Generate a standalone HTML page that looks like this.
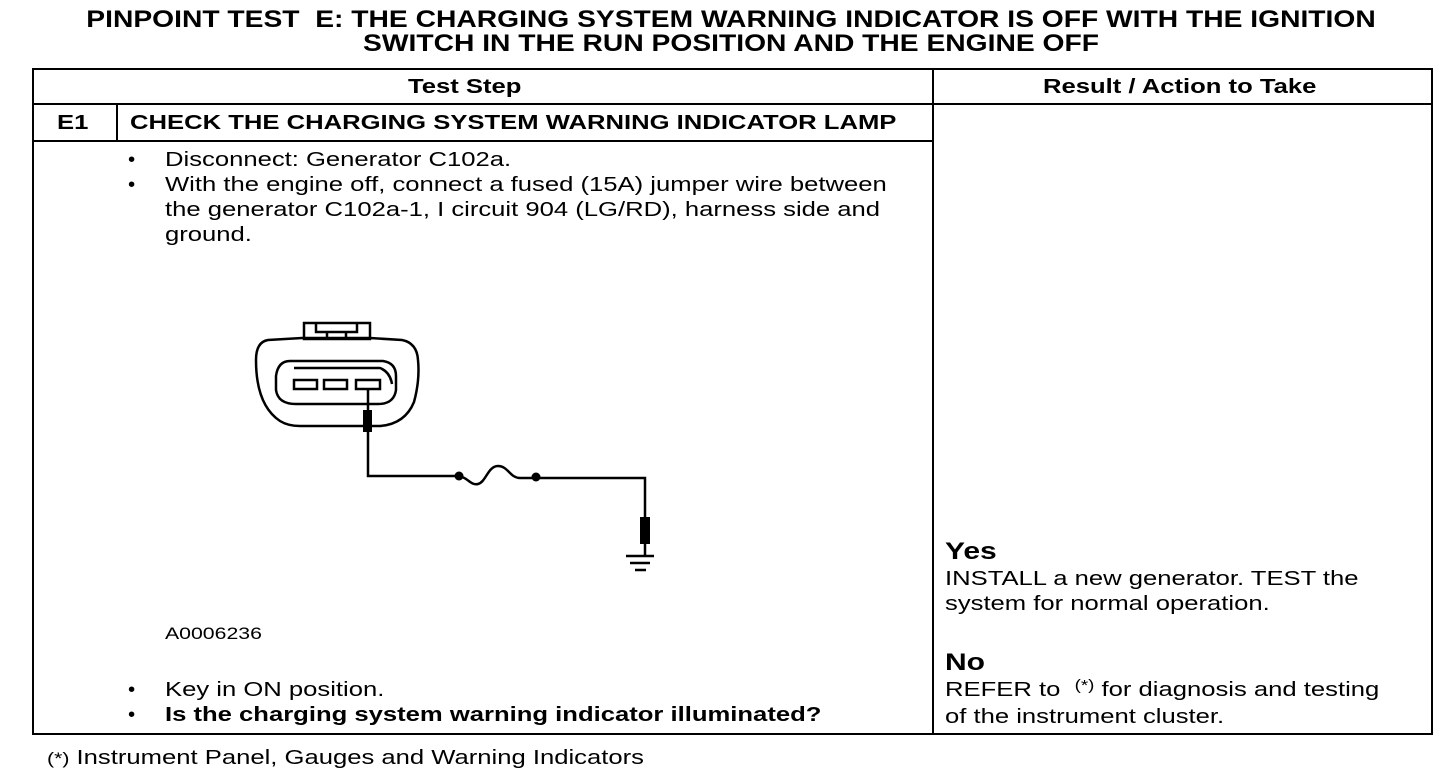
<!DOCTYPE html>
<html><head><style>
body{margin:0;width:1456px;height:782px;background:#fff;position:relative;overflow:hidden;font-family:"Liberation Sans",Arial,sans-serif;color:#000}
.a{position:absolute;white-space:nowrap;transform:scaleX(1.25);transform-origin:0 0}
.t{font-weight:bold;font-size:24px;line-height:24px;left:0;width:1462px;text-align:center;transform:scaleX(1.176);transform-origin:731px 0}
.b{font-size:20.5px;line-height:25px}
.h{font-weight:bold;font-size:20.5px}
.l{position:absolute;background:#000}
.n{transform:none}
</style></head><body>
<div class="a t" style="top:8px">PINPOINT TEST&nbsp; E: THE CHARGING SYSTEM WARNING INDICATOR IS OFF WITH THE IGNITION</div>
<div class="a t" style="top:32px">SWITCH IN THE RUN POSITION AND THE ENGINE OFF</div>
<div class="l" style="left:32px;top:68px;width:1401px;height:2px"></div>
<div class="l" style="left:32px;top:733px;width:1401px;height:2px"></div>
<div class="l" style="left:32px;top:68px;width:2px;height:667px"></div>
<div class="l" style="left:1431px;top:68px;width:2px;height:667px"></div>
<div class="l" style="left:932px;top:68px;width:2px;height:667px"></div>
<div class="l" style="left:32px;top:103px;width:1401px;height:2px"></div>
<div class="l" style="left:32px;top:140px;width:902px;height:2px"></div>
<div class="l" style="left:116px;top:103px;width:2px;height:38px"></div>
<div class="a h" style="left:408px;top:75px">Test Step</div>
<div class="a h" style="left:1043px;top:75px">Result / Action to Take</div>
<div class="a h" style="left:57px;top:111px">E1</div>
<div class="a h" style="left:130px;top:111px">CHECK THE CHARGING SYSTEM WARNING INDICATOR LAMP</div>
<div class="a b n" style="left:128px;top:147px">•</div>
<div class="a b n" style="left:128px;top:172px">•</div>
<div class="a b" style="left:165px;top:147px">Disconnect: Generator C102a.<br>With the engine off, connect a fused (15A) jumper wire between<br>the generator C102a-1, I circuit 904 (LG/RD), harness side and<br>ground.</div>
<div class="a" style="left:165px;top:624px;font-size:17px">A0006236</div>
<div class="a b n" style="left:128px;top:677px">•<br>•</div>
<div class="a b" style="left:165px;top:677px">Key in ON position.<br><b>Is the charging system warning indicator illuminated?</b></div>
<div class="a" style="left:945px;top:538px;font-weight:bold;font-size:24px">Yes</div>
<div class="a b" style="left:945px;top:566px">INSTALL a new generator. TEST the<br>system for normal operation.</div>
<div class="a" style="left:945px;top:649px;font-weight:bold;font-size:24px">No</div>
<div class="a b" style="left:945px;top:677px">REFER to&nbsp; <span style="font-size:15px;position:relative;top:-6px">(*)</span> for diagnosis and testing<br>of the instrument cluster.</div>
<div class="a b" style="left:47px;top:745px"><span style="font-size:17px">(*)</span> Instrument Panel, Gauges and Warning Indicators</div>
<svg style="position:absolute;left:0;top:0" width="1456" height="782">
<g fill="none" stroke="#000" stroke-width="2.5">
<path d="M268 340 Q256 342 256 360 Q256 405 280 421 Q288 426 300 426 L380 426 Q405 424 414 402 Q420 380 418 360 Q417 343 402 340 L370 338 L302 338 Z"/>
<rect x="304" y="323" width="66" height="16"/>
<path d="M316 323 V332 H327 V339 M357 323 V332 H346 V339 M327 332 H346"/>
<path d="M290 361 H383 Q396 363 396 376 V390 Q394 404 378 404 H296 Q278 404 276 390 V376 Q278 361 290 361 Z"/>
<path d="M294 368 H380 Q390 372 392 384"/>
<rect x="294" y="380" width="23" height="9"/>
<rect x="324" y="380" width="23" height="9"/>
<rect x="356" y="380" width="24" height="9"/>
<path d="M368 389 V476 H456 C468 476 470 486 478 484 C486 482 488 466 498 466 C508 466 510 478 520 478 H645 V555"/>
<path d="M626 556 H654 M630 563 H650 M635 570 H646"/>
</g>
<rect x="363" y="410" width="9" height="22" fill="#000"/>
<rect x="640" y="517" width="10" height="27" fill="#000"/>
<circle cx="459" cy="476" r="4.5"/><circle cx="536" cy="477" r="4.5"/>
</svg>
</body></html>
